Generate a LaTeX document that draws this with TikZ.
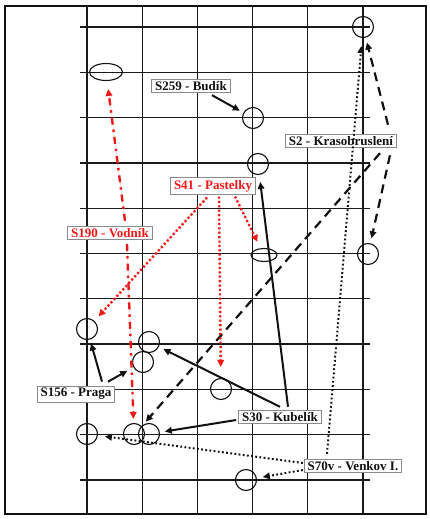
\documentclass[tikz,border=0pt]{standalone}
\usepackage{fontspec}
\setmainfont{Liberation Serif}
\usepackage{xcolor}
\usepackage{tikz}
\usetikzlibrary{calc,arrows.meta,shapes.geometric}
\definecolor{ink}{HTML}{111111}
\definecolor{rule}{HTML}{1A1A1A}
\definecolor{boxline}{HTML}{8A8A8A}
\definecolor{mark}{HTML}{F01818}
\tikzset{
  frame/.style={draw=ink, line width=1.2pt},
  gridl/.style={draw=rule, line width=1.25pt},
  spot/.style={circle, draw=ink, line width=1.1pt, minimum size=21pt, inner sep=0pt},
  oval/.style={ellipse, draw=ink, line width=1.1pt, inner sep=0pt},
  tag/.style={draw=boxline, fill=white, line width=0.8pt, inner xsep=3.5pt, inner ysep=2.2pt,
    font=\fontsize{13}{14}\selectfont\bfseries, text=ink},
  tagr/.style={tag, text=mark},
  tip/.style={-{Triangle[length=7pt,width=6.5pt]}},
  solid arr/.style={tip, draw=ink, line width=2pt},
  dash arr/.style={tip, draw=ink, line width=2.2pt, dash pattern=on 9pt off 6pt},
  dot arr/.style={tip, draw=ink, line width=2pt, dash pattern=on 1.8pt off 2.4pt},
  rdot arr/.style={tip, draw=mark, fill=mark, line width=2.4pt, dash pattern=on 2pt off 2.4pt},
  rdash arr/.style={tip, draw=mark, fill=mark, line width=2.4pt, dash pattern=on 7pt off 5pt on 2.4pt off 5pt},
}

\begin{document}
\begin{tikzpicture}[x=1pt,y=-1pt]
  \useasboundingbox (0,0) rectangle (430,519);
  \draw[frame] (5,6) rectangle (426,514);

  % grid
  \foreach \i in {0,...,5}
    \draw[gridl] ({87+55.2*\i},6) -- ({87+55.2*\i},514);
  \foreach \j in {0,...,10}
    \draw[gridl] (80,{27+45.3*\j}) -- (370,{27+45.3*\j});

  % spots
  \node[spot] (cA) at (363,27) {};
  \node[oval, minimum width=33pt, minimum height=17pt] (eA) at (106,72) {};
  \node[spot] (cB) at (253,118) {};
  \node[spot] (cC) at (258,164) {};
  \node[oval, minimum width=26pt, minimum height=13pt] (eB) at (264,255) {};
  \node[spot] (cD) at (368,254) {};
  \node[spot] (cE) at (87,329) {};
  \node[spot] (cF) at (149,342) {};
  \node[spot] (cG) at (143,362) {};
  \node[spot] (cH) at (221,389) {};
  \node[spot] (cI) at (87,434) {};
  \node[spot] (cJ) at (134,434) {};
  \node[spot] (cK) at (149,434) {};
  \node[spot] (cL) at (246,480) {};

  % labels
  \node[tag] (budik) at (191,86) {S259 - Budík};
  \node[tag] (kraso) at (341,141) {S2 - Krasobruslení};
  \node[tagr] (pastelky) at (213,186) {S41 - Pastelky};
  \node[tagr] (vodnik) at (110,233) {S190 - Vodník};
  \node[tag] (praga) at (76,394) {S156 - Praga};
  \node[tag] (kubelik) at (280,417) {S30 - Kubelík};
  \node[tag] (venkov) at (353,466) {S70v - Venkov I.};

  % arrows
  \draw[solid arr, shorten >=4pt] ([shift={(21,2)}]budik.south) -- (cB);

  \draw[dash arr, shorten >=5pt] ([shift={(47,-9)}]kraso.north) -- (cA);
  \draw[dash arr, shorten >=5pt] ([shift={(49,7)}]kraso.south) -- (cD);
  \draw[dash arr, shorten >=6pt] ([shift={(39,5)}]kraso.south) -- (cJ.north east);

  \draw[rdot arr, shorten >=6pt] ([shift={(-6,3)}]pastelky.south) -- (cE);
  \draw[rdot arr, shorten >=11pt] ([shift={(6,2)}]pastelky.south) -- (cH);
  \draw[rdot arr, shorten >=7pt] ([shift={(22,2)}]pastelky.south) -- (eB);

  \draw[rdash arr, shorten >=8pt] ([shift={(15,-5)}]vodnik.north) -- (eA);
  \draw[rdash arr, shorten >=4pt] ([shift={(17,4)}]vodnik.south) -- (cJ);

  \draw[solid arr, shorten >=4pt] ([shift={(26,-4)}]praga.north) -- (cE);
  \draw[solid arr, shorten >=7pt] ([shift={(32,-4)}]praga.north) -- (cG);

  \draw[solid arr, shorten >=7pt] ([shift={(8,-3)}]kubelik.north) -- (cC);
  \draw[solid arr, shorten >=5pt] ([shift={(0,-3)}]kubelik.north) -- (cF);
  \draw[solid arr, shorten >=5pt] ([shift={(-2,3)}]kubelik.west) -- (cK);

  \draw[dot arr, shorten >=8pt] ([shift={(-26,-5)}]venkov.north) -- (cA);
  \draw[dot arr, shorten >=7pt] ([shift={(-1,-3)}]venkov.west) -- (cI);
  \draw[dot arr, shorten >=6pt] ([shift={(-1,4)}]venkov.west) -- (cL);
\end{tikzpicture}
\end{document}
